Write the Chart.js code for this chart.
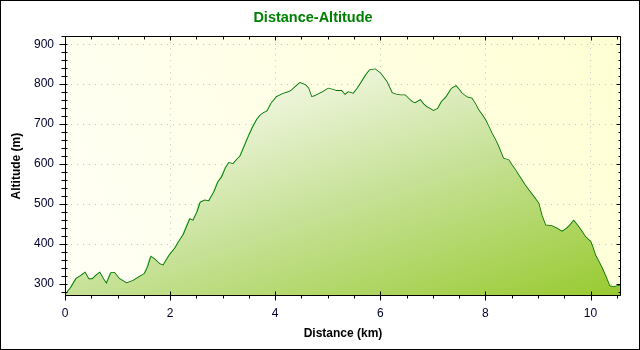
<!DOCTYPE html>
<html>
<head>
<meta charset="utf-8">
<script src="https://cdn.jsdelivr.net/npm/chart.js@4.4.0/dist/chart.umd.min.js"></script>
<style>
  body { margin: 0; background: #fff; }
  canvas { display: block; }
</style>
</head>
<body>
<canvas id="altChart" width="640" height="350"></canvas>
<script>
// ---------------------------------------------
// profile points
// ---------------------------------------------
const distanceKm = [
  0.00, 0.05, 0.12, 0.22, 0.30, 0.38, 0.45, 0.52, 0.60, 0.66,
  0.73, 0.79, 0.88, 0.94, 1.03, 1.17, 1.30, 1.42, 1.52, 1.58,
  1.64, 1.70, 1.80, 1.87, 1.99, 2.10, 2.18, 2.26, 2.38, 2.44,
  2.52, 2.58, 2.66, 2.74, 2.84, 2.92, 2.99, 3.06, 3.12, 3.20,
  3.28, 3.34, 3.42, 3.50, 3.58, 3.66, 3.72, 3.78, 3.85, 3.93,
  4.03, 4.15, 4.25, 4.31, 4.40, 4.47, 4.57, 4.63, 4.69, 4.75,
  4.82, 4.90, 5.01, 5.10, 5.17, 5.26, 5.33, 5.39, 5.49, 5.57,
  5.65, 5.74, 5.80, 5.90, 6.00, 6.07, 6.12, 6.22, 6.30, 6.38,
  6.47, 6.55, 6.60, 6.66, 6.76, 6.82, 6.88, 6.95, 7.01, 7.10,
  7.17, 7.26, 7.36, 7.44, 7.50, 7.55, 7.65, 7.74, 7.80, 7.87,
  7.94, 8.00, 8.06, 8.12, 8.19, 8.25, 8.34, 8.44, 8.50, 8.57,
  8.63, 8.69, 8.75, 8.82, 8.92, 9.01, 9.07, 9.14, 9.26, 9.36,
  9.46, 9.55, 9.62, 9.68, 9.77, 9.84, 9.90, 10.00, 10.05, 10.09,
  10.16, 10.22, 10.30, 10.36, 10.44, 10.51, 10.58
];

const altitudeM = [
  273, 280, 292, 314, 320, 328, 312, 312, 322, 328,
  312, 300, 328, 328, 313, 302, 308, 318, 326, 343,
  368, 362, 350, 346, 372, 390, 408, 424, 462, 458,
  480, 504, 509, 507, 530, 556, 568, 590, 603, 600,
  612, 620, 645, 670, 693, 712, 722, 728, 732, 752,
  768, 776, 780, 784, 795, 803, 798, 790, 768, 770,
  775, 780, 789, 786, 783, 783, 773, 780, 776, 790,
  806, 825, 835, 837, 827, 815, 806, 778, 774, 772,
  772, 762, 756, 752, 760, 750, 743, 738, 733, 739,
  756, 768, 789, 795, 786, 777, 767, 764, 752, 735,
  722, 710, 694, 677, 660, 643, 614, 610, 598, 585,
  572, 560, 548, 535, 518, 502, 472, 447, 445, 439,
  431, 439, 448, 458, 443, 430, 418, 406, 388, 372,
  355, 339, 315, 295, 292, 295, 296
];

const xTicks = [0, 2, 4, 6, 8, 10];
const yTicks = [300, 400, 500, 600, 700, 800, 900];
const xRange = [0, 10.58];
const yRange = [270, 920];
const xMinorStep = 0.5;
const yMinorStep = 20;

const points = distanceKm.map((d, i) => ({ x: d, y: altitudeM[i] }));

const FONT = "'Liberation Sans', Arial, sans-serif";

// fill: light at the top, yellow-green to the bottom right
function fillGradient(c) {
    const a = c.chart.chartArea;
    if (!a) return "#c8e29a";
    const w = a.right - a.left, h = a.bottom - a.top;
    const s = (w + 3 * h) / 10;
    const g = c.chart.ctx.createLinearGradient(a.left, a.top, a.left + s, a.top + 3 * s);
    g.addColorStop(0, "#ffffff");
    g.addColorStop(0.3, "#ecf4d8");
    g.addColorStop(0.57, "#c8e29a");
    g.addColorStop(1, "#98ca30");
    return g;
}

// background, frame, minor ticks, line shadow
const framePlugin = {
    id: "frame",
    beforeDraw(chart) {
        const { ctx, chartArea: a } = chart;
        ctx.save();
        ctx.fillStyle = "#fff";
        ctx.fillRect(0, 0, chart.width, chart.height);
        const bg = ctx.createLinearGradient(a.left, a.bottom, a.right, a.top);
        bg.addColorStop(0, "#fffff6");
        bg.addColorStop(1, "#ffffd4");
        ctx.fillStyle = bg;
        ctx.fillRect(a.left, a.top, a.right - a.left, a.bottom - a.top);
        ctx.restore();
    },
    beforeDatasetDraw(chart, args) {
        if (args.index !== 1) return;
        const ctx = chart.ctx;
        ctx.save();
        ctx.shadowColor = "#70e070";
        ctx.shadowOffsetX = -1;
        ctx.shadowOffsetY = 1;
        ctx.shadowBlur = 0;
    },
    afterDatasetDraw(chart, args) {
        if (args.index === 1) chart.ctx.restore();
    },
    afterDraw(chart) {
        const { ctx, chartArea: a } = chart;
        const xs = chart.scales.x, ys = chart.scales.y;
        const L = Math.round(a.left) + 0.5, R = Math.round(a.right) - 0.5;
        const T = Math.round(a.top) + 0.5, B = Math.round(a.bottom) - 0.5;
        ctx.save();
        ctx.strokeStyle = "#000";
        ctx.lineWidth = 1;
        ctx.beginPath();
        ctx.rect(L, T, R - L, B - T);

        for (let v = xRange[0]; v <= xRange[1] + 1e-9; v += xMinorStep) {
            const px = Math.round(xs.getPixelForValue(v)) + 0.5;
            const major = xTicks.includes(Math.round(v * 100) / 100);
            ctx.moveTo(px, major ? B - 4 : B);
            ctx.lineTo(px, major ? B + 5 : B + 3);
            ctx.moveTo(px, T);
            ctx.lineTo(px, major ? T + 4 : T + 3);
        }
        for (let v = 280; v <= yRange[1]; v += yMinorStep) {
            const py = Math.round(ys.getPixelForValue(v)) + 0.5;
            const major = yTicks.includes(v);
            ctx.moveTo(major ? L - 6 : L - 4, py);
            ctx.lineTo(L + 2, py);
            ctx.moveTo(R, py);
            ctx.lineTo(major ? R - 4 : R - 2, py);
        }
        ctx.stroke();

        ctx.strokeRect(0.5, 0.5, chart.width - 1, chart.height - 1);
        ctx.restore();
    }
};

new Chart(document.getElementById("altChart"), {
    type: "line",
    data: {
        datasets: [{
            data: points,
            borderWidth: 0,
            pointRadius: 0,
            fill: "start",
            backgroundColor: fillGradient,
            tension: 0
        }, {
            data: points,
            borderColor: "#007400",
            borderWidth: 1.7,
            pointRadius: 0,
            fill: false,
            tension: 0
        }]
    },
    options: {
        responsive: false,
        animation: false,
        events: [],
        layout: { padding: { left: 5, right: 19, top: 0, bottom: 5 } },
        plugins: {
            legend: { display: false },
            tooltip: { enabled: false },
            title: {
                display: true,
                text: "Distance-Altitude",
                color: "#008000",
                font: { family: FONT, size: 14.5, weight: "bold" },
                padding: { top: 9.6, bottom: 9.2 }
            }
        },
        scales: {
            x: {
                type: "linear",
                min: xRange[0],
                max: xRange[1],
                afterBuildTicks: (s) => { s.ticks = xTicks.map(v => ({ value: v })); },
                afterFit: (s) => { s.height = 49; },
                ticks: {
                    color: "#000030",
                    padding: 10,
                    maxRotation: 0,
                    font: { family: FONT, size: 12 }
                },
                grid: { color: "#c4c4c4", drawTicks: false, lineWidth: 1 },
                border: { display: false, dash: [1, 5] },
                title: {
                    display: true,
                    text: "Distance (km)",
                    color: "#000",
                    font: { family: FONT, size: 12, weight: "bold" }
                }
            },
            y: {
                min: yRange[0],
                max: yRange[1],
                afterBuildTicks: (s) => { s.ticks = yTicks.map(v => ({ value: v })); },
                afterFit: (s) => { s.width = 60; },
                ticks: {
                    color: "#000030",
                    padding: 11,
                    font: { family: FONT, size: 12 }
                },
                grid: { color: "#c4c4c4", drawTicks: false, lineWidth: 1 },
                border: { display: false, dash: [1, 5] },
                title: {
                    display: true,
                    text: "Altitude (m)",
                    color: "#000",
                    font: { family: FONT, size: 12, weight: "bold" }
                }
            }
        }
    },
    plugins: [framePlugin]
});
</script>
</body>
</html>
